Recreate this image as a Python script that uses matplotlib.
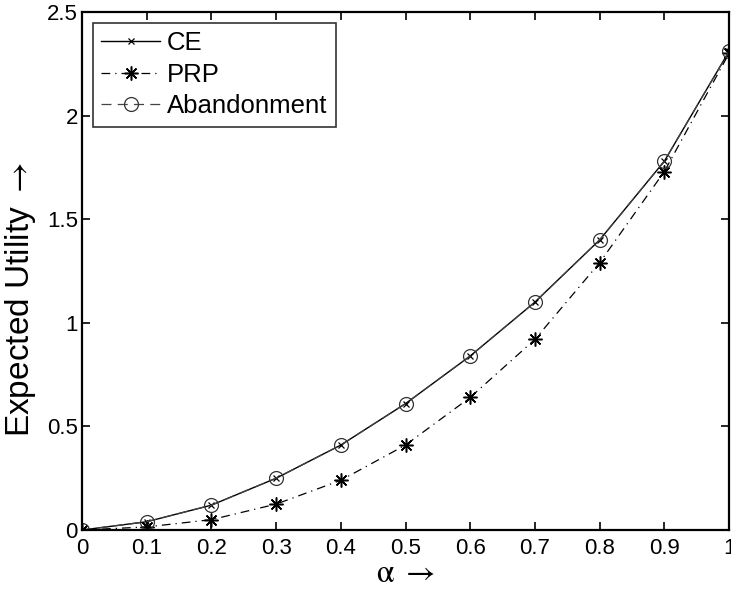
import numpy as np
import matplotlib
matplotlib.use("Agg")
import matplotlib.pyplot as plt

plt.rcParams['font.family'] = ['Liberation Sans', 'DejaVu Sans']
plt.rcParams['mathtext.fontset'] = 'stix'

alpha = [0, 0.1, 0.2, 0.3, 0.4, 0.5, 0.6, 0.7, 0.8, 0.9, 1.0]
ce = [0, 0.04, 0.12, 0.25, 0.41, 0.61, 0.84, 1.10, 1.40, 1.78, 2.31]
prp = [0, 0.015, 0.05, 0.125, 0.24, 0.41, 0.64, 0.92, 1.29, 1.73, 2.30]
abandonment = [0, 0.04, 0.12, 0.25, 0.41, 0.61, 0.84, 1.10, 1.40, 1.78, 2.31]

xticks = [0, 0.1, 0.2, 0.3, 0.4, 0.5, 0.6, 0.7, 0.8, 0.9, 1]
xticklabels = ['0', '0.1', '0.2', '0.3', '0.4', '0.5', '0.6', '0.7', '0.8', '0.9', '1']
yticks = [0, 0.5, 1, 1.5, 2, 2.5]
yticklabels = ['0', '0.5', '1', '1.5', '2', '2.5']

fig = plt.figure(figsize=(7.31, 5.92), dpi=100)
ax = fig.add_axes([0.1122, 0.1047, 0.8851, 0.875])

ax.plot(alpha, ce, color='black', linestyle='-', linewidth=1.0,
        marker='x', markersize=5, markeredgewidth=0.9, label='CE')
ax.plot(alpha, prp, color='black', linestyle=(0, (7, 4, 1, 4)), linewidth=0.9,
        marker=(8, 2, 0), markersize=10, markeredgewidth=1.1, label='PRP')
ax.plot(alpha, abandonment, color='#444444', linestyle=(0, (8, 5)), linewidth=0.9,
        marker='o', markersize=10, markerfacecolor='none', markeredgecolor='#333333',
        markeredgewidth=0.9, label='Abandonment')

ax.set_xlim(0, 1)
ax.set_ylim(0, 2.5)
ax.set_xticks(xticks)
ax.set_xticklabels(xticklabels)
ax.set_yticks(yticks)
ax.set_yticklabels(yticklabels)
ax.tick_params(direction='in', length=6, width=1.2, labelsize=16,
               top=True, right=True)
ax.tick_params(axis='x', pad=6)
ax.tick_params(axis='y', pad=3)
for s in ax.spines.values():
    s.set_linewidth(1.6)

ax.set_xlabel(r'$\mathrm{\alpha}\ \rightarrow$', fontsize=23, labelpad=0)
ax.set_ylabel(r'Expected Utility $\rightarrow$', fontsize=24)
ax.yaxis.set_label_coords(-0.068, 0.445)

leg = ax.legend(loc='upper left', fontsize=18.5, frameon=True, fancybox=False,
                handlelength=2.3, borderaxespad=0.42, borderpad=0.32,
                labelspacing=0.3, handletextpad=0.27)
leg.get_frame().set_edgecolor('black')
leg.get_frame().set_linewidth(1.2)

fig.savefig('out.png', dpi=100)
